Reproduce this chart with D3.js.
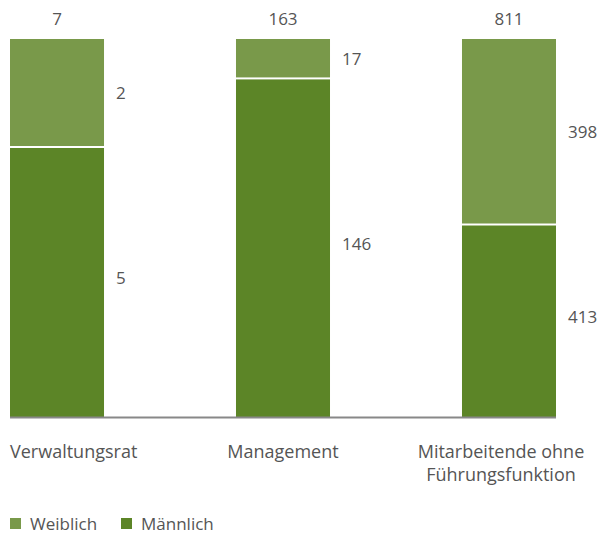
<!DOCTYPE html>
<html>
<head>
<meta charset="utf-8">
<script src="https://cdn.jsdelivr.net/npm/d3@7"></script>
<style>
  body { margin: 0; background: #fff; }
  text { font-family: "Open Sans", "Noto Sans", sans-serif; fill: #555; }
</style>
</head>
<body>
<svg width="598" height="536"></svg>
<script>
// data
var categories = ['Verwaltungsrat', 'Management', 'Mitarbeitende ohne|Führungsfunktion'];
var weiblich = [2, 17, 398];
var maennlich = [5, 146, 413];
var totals = [7, 163, 811];
var seriesNames = ['Weiblich', 'Männlich'];
var seriesColors = ['#79994a', '#5c8527'];

var svg = d3.select('svg');
var fontSize = '17px';

var xScale = d3.scaleBand()
    .domain(categories)
    .range([10, 556])
    .paddingInner(0.584)
    .paddingOuter(0)
    .align(0);

var yScale = d3.scaleLinear()
    .domain([0, 1])
    .range([417, 39]);

var bw = xScale.bandwidth();

categories.forEach(function(cat, i) {
    var total = maennlich[i] + weiblich[i];
    var mShare = maennlich[i] / total;
    var x = xScale(cat);

    // male segment (bottom)
    svg.append('rect')
        .attr('x', x)
        .attr('y', yScale(mShare) + 1)
        .attr('width', bw)
        .attr('height', yScale(0) - yScale(mShare) - 1)
        .attr('fill', seriesColors[1]);

    // female segment (top)
    svg.append('rect')
        .attr('x', x)
        .attr('y', yScale(1))
        .attr('width', bw)
        .attr('height', yScale(mShare) - yScale(1) - 1)
        .attr('fill', seriesColors[0]);

    // segment labels
    svg.append('text')
        .attr('x', x + bw + 12)
        .attr('y', (yScale(mShare) + yScale(0)) / 2 - 4)
        .attr('dy', '0.35em')
        .style('font-size', fontSize)
        .text(maennlich[i]);

    svg.append('text')
        .attr('x', x + bw + 12)
        .attr('y', (yScale(1) + yScale(mShare)) / 2)
        .attr('dy', '0.35em')
        .style('font-size', fontSize)
        .text(weiblich[i]);

    // total label
    svg.append('text')
        .attr('x', x + bw / 2)
        .attr('y', 19)
        .attr('dy', '0.35em')
        .attr('text-anchor', 'middle')
        .style('font-size', fontSize)
        .text(totals[i]);
});

// x axis
var axis = svg.append('g')
    .attr('transform', 'translate(0,' + yScale(0) + ')')
    .call(d3.axisBottom(xScale).tickSize(0).tickFormat(''));
axis.select('.domain')
    .attr('d', 'M10,0.5H' + (xScale(categories[2]) + bw))
    .attr('stroke', '#888')
    .attr('stroke-width', 2);

// category labels
var labelShift = [0, 0, -8];
categories.forEach(function(cat, i) {
    var lines = cat.split('|');
    var first = i === 0;
    var t = svg.append('text')
        .attr('text-anchor', first ? 'start' : 'middle')
        .style('font-size', '18px');
    lines.forEach(function(line, j) {
        t.append('tspan')
            .attr('x', (first ? xScale(cat) : xScale(cat) + bw / 2) + labelShift[i])
            .attr('y', 458 + j * 23)
            .text(line);
    });
});

// legend
var legendX = [10, 121];
seriesNames.forEach(function(name, i) {
    svg.append('rect')
        .attr('x', legendX[i])
        .attr('y', 518)
        .attr('width', 11)
        .attr('height', 11)
        .attr('fill', seriesColors[i]);
    svg.append('text')
        .attr('x', legendX[i] + 20)
        .attr('y', 524)
        .attr('dy', '0.35em')
        .style('font-size', fontSize)
        .text(name);
});
</script>
</body>
</html>
